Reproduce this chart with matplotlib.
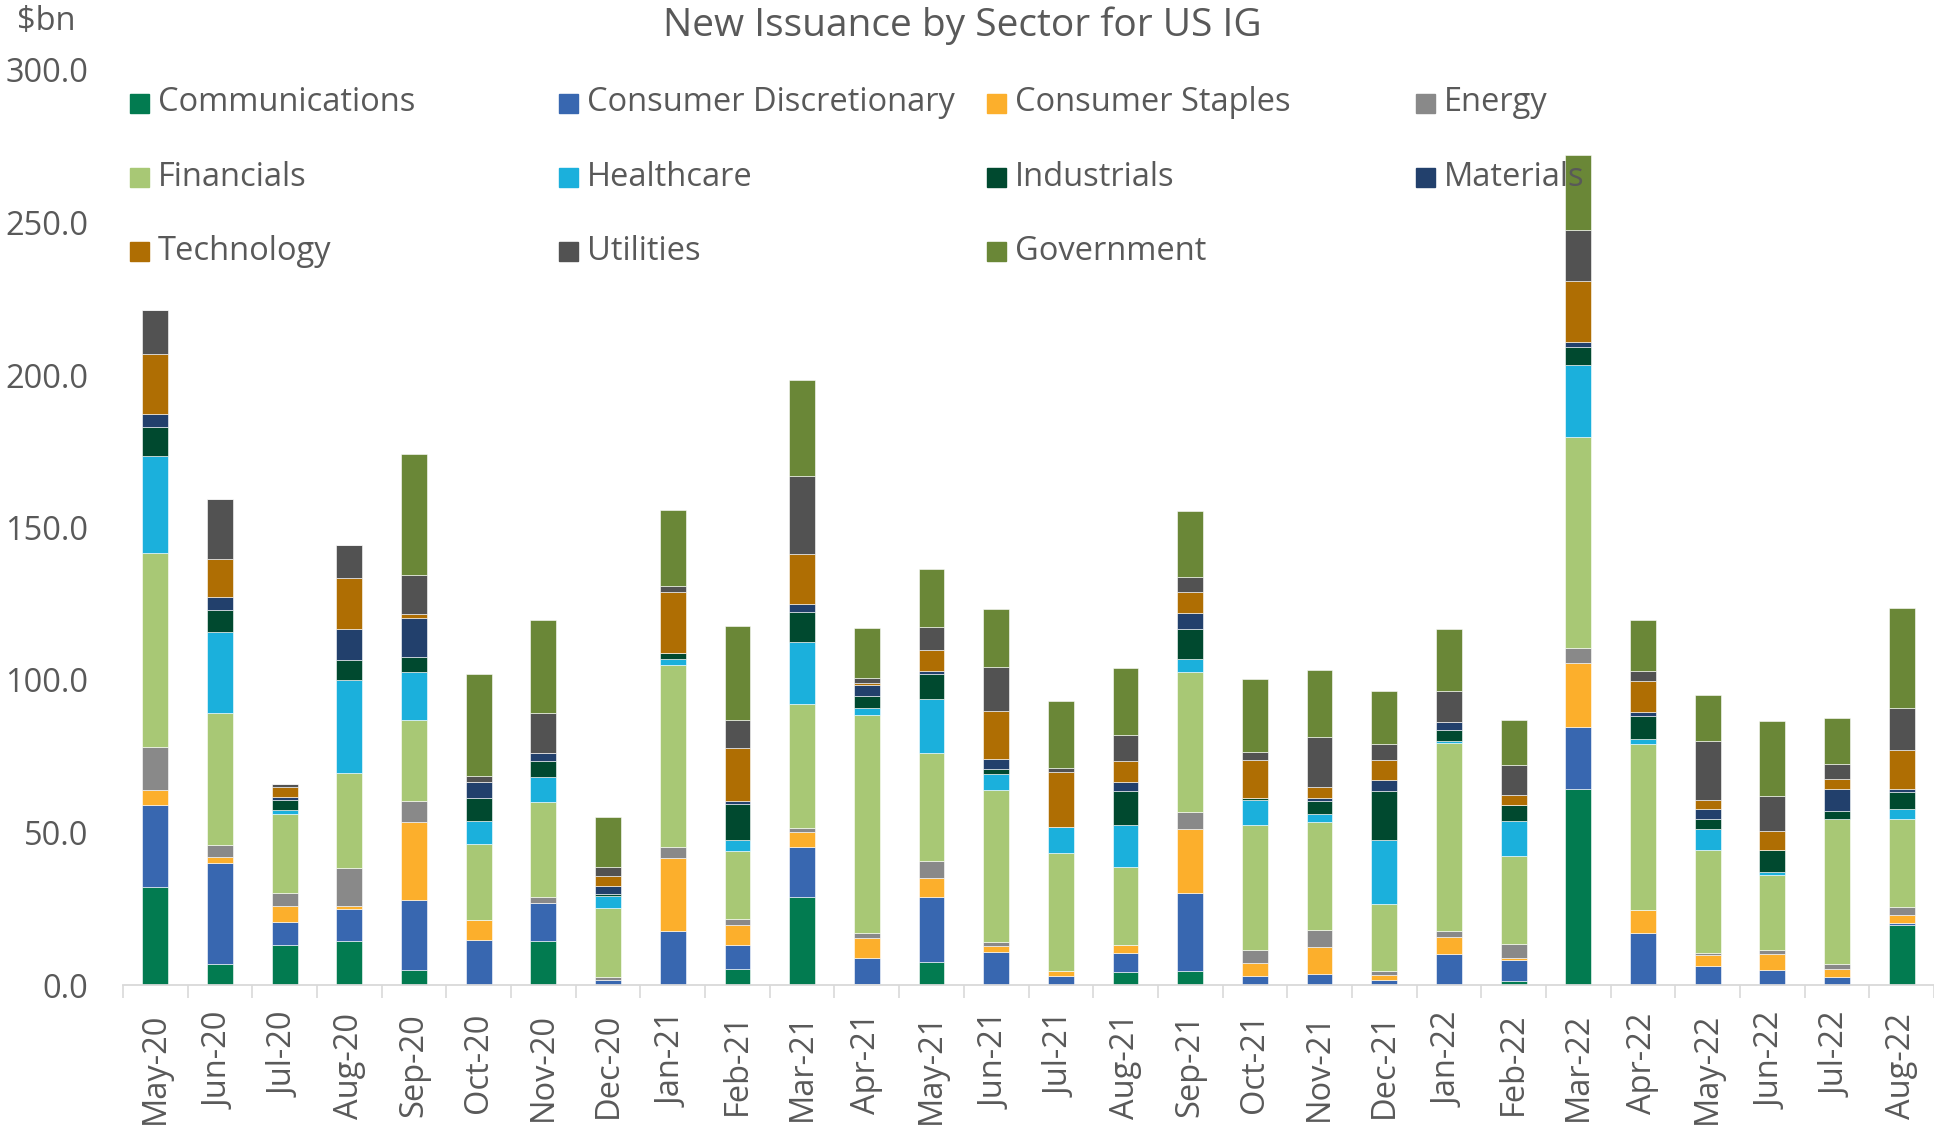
import matplotlib
matplotlib.use("Agg")
import matplotlib.pyplot as plt
from matplotlib.patches import Rectangle
import numpy as np

plt.rcParams['font.family'] = ['Open Sans', 'DejaVu Sans']

months = ['May-20', 'Jun-20', 'Jul-20', 'Aug-20', 'Sep-20', 'Oct-20', 'Nov-20', 'Dec-20',
          'Jan-21', 'Feb-21', 'Mar-21', 'Apr-21', 'May-21', 'Jun-21', 'Jul-21', 'Aug-21',
          'Sep-21', 'Oct-21', 'Nov-21', 'Dec-21', 'Jan-22', 'Feb-22', 'Mar-22', 'Apr-22',
          'May-22', 'Jun-22', 'Jul-22', 'Aug-22']

sectors = ['Communications', 'Consumer Discretionary', 'Consumer Staples', 'Energy',
           'Financials', 'Healthcare', 'Industrials', 'Materials',
           'Technology', 'Utilities', 'Government']

colors = ['#027B50', '#3867B0', '#FCAF2C', '#898989', '#A8C875', '#1BB0DC',
          '#00492F', '#22406C', '#AF6E03', '#525252', '#6A8737']

# $bn per month, bottom to top of each stack
communications = [32.1, 6.9, 13.2, 14.3, 4.8, 0, 14.3, 0, 0, 5.1, 28.9, 0.3, 7.4, 0,
                  0, 4.1, 4.7, 0, 0, 0, 0, 1.4, 64.4, 0, 0, 0, 0, 19.6]
consumer_disc = [27.0, 33.0, 7.6, 10.7, 23.2, 14.7, 12.5, 1.8, 17.8, 8.1, 16.2, 8.4, 21.5, 10.8,
                 2.9, 6.4, 25.5, 2.9, 3.5, 1.8, 10.1, 6.7, 20.3, 17.2, 6.3, 5.0, 2.7, 0.7]
consumer_staples = [4.8, 2.1, 5.1, 1.0, 25.3, 6.5, 0, 0, 23.9, 6.5, 5.0, 6.7, 6.2, 2.1,
                    1.6, 2.7, 21.0, 4.3, 8.8, 1.4, 5.5, 0.7, 21.0, 7.3, 3.6, 5.1, 2.7, 2.6]
energy = [14.1, 4.0, 4.3, 12.4, 7.0, 0, 1.9, 0.8, 3.4, 2.1, 1.5, 1.8, 5.4, 1.2,
          0, 0, 5.4, 4.2, 5.6, 1.3, 2.0, 4.7, 4.9, 0, 0.6, 1.5, 1.4, 2.8]
financials = [63.5, 43.1, 25.8, 31.0, 26.7, 25.0, 31.2, 22.6, 59.8, 22.0, 40.6, 71.3, 35.5, 49.7,
              38.8, 25.5, 45.9, 41.1, 35.5, 22.1, 61.9, 28.7, 69.2, 54.5, 33.9, 24.5, 47.7, 28.6]
healthcare = [31.8, 26.8, 1.5, 30.5, 15.5, 7.5, 8.3, 4.1, 1.9, 3.6, 20.4, 2.2, 17.8, 5.4,
              8.6, 13.7, 4.3, 8.0, 2.7, 21.0, 0.5, 11.5, 23.5, 1.5, 6.8, 0.8, 0, 3.3]
industrials = [9.6, 7.0, 3.0, 6.6, 5.1, 7.7, 5.1, 0.6, 2.2, 12.0, 9.7, 4.1, 8.1, 1.7,
               0, 11.3, 10.0, 0.9, 4.1, 16.0, 3.6, 5.3, 5.9, 7.8, 3.3, 7.2, 2.4, 5.8]
materials = [4.2, 4.4, 1.2, 10.3, 12.8, 5.0, 2.7, 2.6, 0, 0.9, 2.6, 3.6, 1.2, 3.3,
             0, 2.7, 5.2, 0, 1.2, 3.6, 2.7, 0, 1.7, 1.2, 3.3, 0, 7.5, 1.0]
technology = [19.9, 12.5, 3.2, 16.7, 1.3, 0, 0, 3.4, 20.0, 17.4, 16.4, 0.5, 6.6, 15.6,
              17.9, 7.2, 7.0, 12.5, 3.5, 6.7, 0, 3.4, 19.9, 10.1, 3.0, 6.5, 3.2, 12.5]
utilities = [14.4, 19.7, 1.0, 10.7, 12.8, 2.2, 13.1, 2.9, 1.9, 9.3, 25.6, 1.8, 7.7, 14.3,
             1.4, 8.4, 4.8, 2.5, 16.5, 5.2, 10.2, 9.7, 16.7, 3.2, 19.3, 11.3, 4.9, 14.0]
government = [0, 0, 0, 0, 39.6, 33.4, 30.5, 16.4, 25.0, 30.8, 31.3, 16.4, 19.1, 19.1,
              21.8, 21.8, 21.5, 24.0, 22.0, 17.3, 20.3, 14.9, 24.5, 17.0, 15.0, 24.6, 15.1, 32.7]

series = [communications, consumer_disc, consumer_staples, energy, financials, healthcare,
          industrials, materials, technology, utilities, government]

W, H = 1934, 1126
fig = plt.figure(figsize=(W / 100, H / 100), dpi=100)
ax = fig.add_axes([123 / W, 141 / H, (W - 123) / W, 915 / H])

text_col = '#595959'
x = np.arange(len(months))
bottom = np.zeros(len(months))
for vals, name, c in zip(series, sectors, colors):
    vals = np.array(vals, dtype=float)
    ax.bar(x, vals, 0.4, bottom=bottom, color=c, label=name,
           edgecolor='white', linewidth=0.4)
    bottom += vals

ax.set_xlim(-0.5, len(months) - 0.5)
ax.set_ylim(0, 300)
ax.set_yticks(np.arange(0, 301, 50))
ax.set_yticklabels(['%.1f' % v for v in np.arange(0, 301, 50)])
ax.set_xticks(x)
ax.set_xticklabels(months, rotation=90)
ax.set_xticks(np.arange(-0.5, len(months), 1), minor=True)
ax.tick_params(axis='x', which='major', length=0, pad=20, labelsize=23.5, labelcolor=text_col)
ax.tick_params(axis='x', which='minor', length=9, width=1.2, color='#D9D9D9')
ax.tick_params(axis='y', length=0, pad=25, labelsize=23.5, labelcolor=text_col)
for s in ['top', 'right', 'left']:
    ax.spines[s].set_visible(False)
ax.spines['bottom'].set_color('#D9D9D9')
ax.spines['bottom'].set_linewidth(1.3)

# legend laid out like the Excel one: 4 equal columns, 3 rows
col_x = [130, 559, 987, 1416]
row_y = [103, 177, 251]
sq = 19
for i, (name, c) in enumerate(zip(sectors, colors)):
    px, py = col_x[i % 4], row_y[i // 4]
    fig.patches.append(Rectangle((px / W, 1 - (py + sq / 2) / H), sq / W, sq / H,
                                 transform=fig.transFigure, color=c))
    fig.text((px + 28) / W, 1 - py / H, name, fontsize=23.5, color=text_col,
             va='center', ha='left')

fig.text(962 / W, 1 - 26 / H, 'New Issuance by Sector for US IG', fontsize=28,
         color=text_col, ha='center', va='center')
fig.text(17 / W, 1 - 21 / H, '$bn', fontsize=23.5, color=text_col, ha='left', va='center')

fig.savefig('out.png', dpi=100)
